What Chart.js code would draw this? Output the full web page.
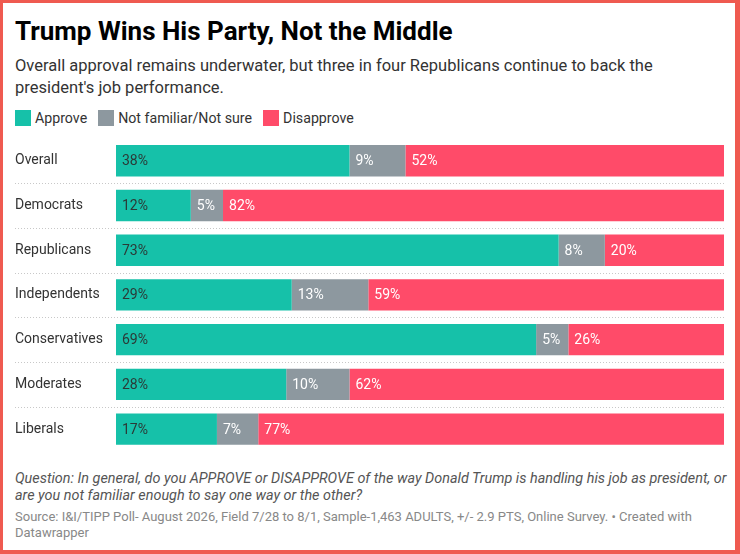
<!DOCTYPE html>
<html>
<head>
<meta charset="utf-8">
<script src="https://cdn.jsdelivr.net/npm/chart.js@4.4.1/dist/chart.umd.min.js"></script>
<style>
  html, body { margin: 0; padding: 0; background: #fff; }
  #wrap { position: relative; width: 740px; height: 554px; overflow: hidden; font-family: Roboto, "Noto Sans", sans-serif; background: #fff; }
  #frame { position: absolute; left: 0; top: 0; width: 740px; height: 554px; box-sizing: border-box;
           border-style: solid; border-color: #ef5a50; border-width: 3px 5px 4px 3px; pointer-events: none; z-index: 5; }
  #title { position: absolute; left: 15px; top: 16px; font-size: 26px; line-height: 30px; font-weight: 700; color: #000; white-space: nowrap; }
  #subtitle { position: absolute; left: 15px; top: 55px; font-size: 16.5px; line-height: 21.5px; color: #333; width: 715px; white-space: nowrap; }
  #legend { position: absolute; left: 15px; top: 110px; font-size: 14.2px; color: #333; display: flex; align-items: center; }
  .li { display: flex; align-items: center; margin-right: 11px; }
  .sw { width: 16px; height: 16px; margin-right: 4px; }
  #chartbox { position: absolute; left: 0; top: 130px; width: 740px; height: 330px; }
  #question { position: absolute; left: 15px; top: 470px; font-size: 14.4px; line-height: 17px; font-style: italic; color: #555; white-space: nowrap; }
  #source { position: absolute; left: 15px; top: 509px; font-size: 13px; line-height: 16px; color: #888; white-space: nowrap; }
</style>
</head>
<body>
<div id="wrap">
  <div id="frame"></div>
  <div id="title">Trump Wins His Party, Not the Middle</div>
  <div id="subtitle">Overall approval remains underwater, but three in four Republicans continue to back the<br>president's job performance.</div>
  <div id="legend"></div>
  <div id="chartbox"><canvas id="c"></canvas></div>
  <div id="question">Question: In general, do you APPROVE or DISAPPROVE of the way Donald Trump is handling his job as president, or<br>are you not familiar enough to say one way or the other?</div>
  <div id="source">Source: I&amp;I/TIPP Poll- August 2026, Field 7/28 to 8/1, Sample-1,463 ADULTS, +/- 2.9 PTS, Online Survey. • Created with<br>Datawrapper</div>
</div>
<script>
const categories = ["Overall", "Democrats", "Republicans", "Independents", "Conservatives", "Moderates", "Liberals"];
const approve    = [38.4, 12.3, 72.8, 28.9, 69.1, 28.0, 16.6];
const notSure    = [9.2, 5.3, 7.6, 12.6, 5.3, 10.4, 6.8];
const disapprove = [52.4, 82.4, 19.6, 58.5, 25.6, 61.6, 76.6];
const approveLabels    = ["38%", "12%", "73%", "29%", "69%", "28%", "17%"];
const notSureLabels    = ["9%", "5%", "8%", "13%", "5%", "10%", "7%"];
const disapproveLabels = ["52%", "82%", "20%", "59%", "26%", "62%", "77%"];
const seriesNames = ["Approve", "Not familiar/Not sure", "Disapprove"];
const seriesColors = ["#16c1a9", "#8d989f", "#ff4b69"];
const labelColors = ["#2b3a37", "#ffffff", "#ffffff"];

const raw = [approve, notSure, disapprove];
const labelSets = [approveLabels, notSureLabels, disapproveLabels];

// legend
const leg = document.getElementById('legend');
seriesNames.forEach((n, k) => {
  const d = document.createElement('div'); d.className = 'li';
  const s = document.createElement('div'); s.className = 'sw'; s.style.background = seriesColors[k];
  const t = document.createElement('span'); t.textContent = n;
  d.appendChild(s); d.appendChild(t); leg.appendChild(d);
});

const separators = {
  id: 'separators',
  beforeDatasetsDraw(chart) {
    const ctx = chart.ctx, y = chart.scales.y;
    ctx.save();
    ctx.strokeStyle = '#c8c8c8';
    ctx.lineWidth = 1;
    ctx.setLineDash([1, 2]);
    for (let i = 0; i < categories.length - 1; i++) {
      const py = Math.round((y.getPixelForValue(i) + y.getPixelForValue(i + 1)) / 2) + 0.5;
      ctx.beginPath();
      ctx.moveTo(15, py);
      ctx.lineTo(chart.chartArea.right, py);
      ctx.stroke();
    }
    ctx.restore();
  }
};

const valueLabels = {
  id: 'valueLabels',
  afterDatasetsDraw(chart) {
    const ctx = chart.ctx;
    ctx.save();
    ctx.font = '14px Roboto, "Noto Sans", sans-serif';
    ctx.textBaseline = 'middle';
    ctx.textAlign = 'left';
    chart.data.datasets.forEach((ds, k) => {
      const meta = chart.getDatasetMeta(k);
      meta.data.forEach((el, i) => {
        const left = Math.min(el.x, el.base);
        ctx.fillStyle = labelColors[k];
        ctx.fillText(labelSets[k][i], left + 6, el.y + 1);
      });
    });
    ctx.restore();
  }
};

new Chart(document.getElementById('c'), {
  type: 'bar',
  data: {
    labels: categories,
    datasets: seriesNames.map((n, k) => ({
      label: n,
      data: raw[k],
      backgroundColor: seriesColors[k],
      borderWidth: 0,
      barPercentage: 1,
      categoryPercentage: 0.7
    }))
  },
  options: {
    indexAxis: 'y',
    responsive: true,
    maintainAspectRatio: false,
    animation: false,
    events: [],
    layout: { padding: { left: 15, right: 16, top: 6.5, bottom: 8.5 } },
    plugins: { legend: { display: false }, tooltip: { enabled: false } },
    scales: {
      x: { stacked: true, min: 0, max: 100, display: false },
      y: {
        stacked: true,
        grid: { display: false },
        border: { display: false },
        afterFit(scale) { scale.width = 101; },
        ticks: {
          crossAlign: 'far',
          padding: 0,
          color: '#333',
          font: { family: 'Roboto, "Noto Sans", sans-serif', size: 14 }
        }
      }
    }
  },
  plugins: [separators, valueLabels]
});
</script>
</body>
</html>
